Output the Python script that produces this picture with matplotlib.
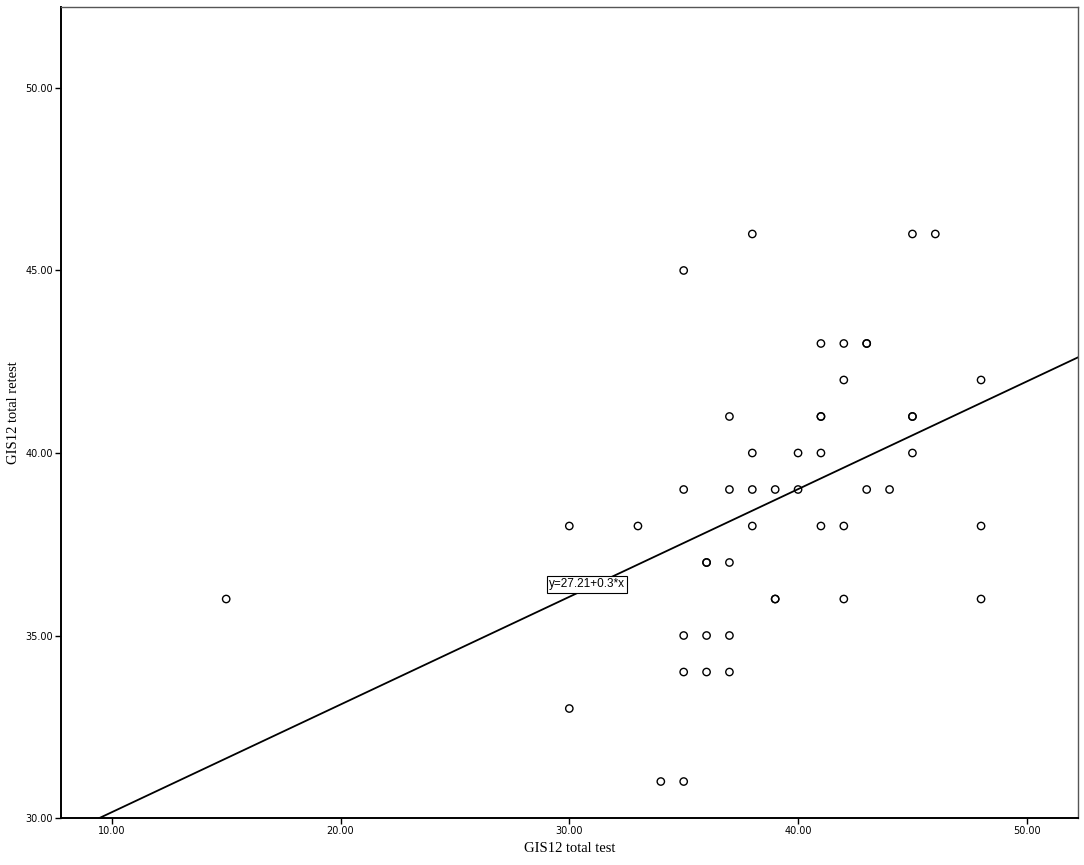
import matplotlib
matplotlib.use('Agg')
import matplotlib.pyplot as plt
import numpy as np

# ==== data ====
test = [15, 30, 30, 33, 34, 35, 35, 35, 35, 35,
        36, 36, 36, 36, 37, 37, 37, 37, 37, 38,
        38, 38, 38, 39, 39, 39, 40, 40, 41, 41,
        41, 41, 41, 42, 42, 42, 42, 43, 43, 43,
        44, 45, 45, 45, 45, 46, 48, 48, 48]
retest = [36, 38, 33, 38, 31, 31, 45, 39, 35, 34,
          37, 37, 35, 34, 41, 39, 37, 35, 34, 46,
          40, 39, 38, 39, 36, 36, 40, 39, 43, 41,
          41, 40, 38, 43, 42, 38, 36, 43, 43, 39,
          39, 46, 41, 41, 40, 46, 42, 38, 36]
intercept = 27.21
slope = 0.295   # shown rounded as 0.3 in the label
fit_label = 'y=27.21+0.3*x'

# ==== plotting ====
fig = plt.figure(figsize=(10.84, 8.65), dpi=100)
ax = fig.add_axes([0.0563, 0.0543, 0.938, 0.9377])

ax.scatter(test, retest, s=28, facecolors='none', edgecolors='black', linewidths=1.0, zorder=3)

xl = np.array([7.78, 52.23])
ax.plot(xl, intercept + slope * xl, color='black', linewidth=1.3, zorder=2)

ax.text(30.77, 36.4, fit_label, fontsize=8.5, family='Liberation Sans', ha='center', va='center',
        bbox=dict(boxstyle='square,pad=0.2', facecolor='white', edgecolor='black', linewidth=0.8), zorder=4)

ax.set_xlim(7.78, 52.23)
ax.set_ylim(30, 52.22)
ax.set_xticks([10, 20, 30, 40, 50])
ax.set_yticks([30, 35, 40, 45, 50])
ax.set_xticklabels(['%.2f' % v for v in [10, 20, 30, 40, 50]])
ax.set_yticklabels(['%.2f' % v for v in [30, 35, 40, 45, 50]])
ax.tick_params(labelsize=7, length=4, width=1, pad=2)

for sp in ['left', 'bottom']:
    ax.spines[sp].set_linewidth(1.4)
for sp in ['top', 'right']:
    ax.spines[sp].set_linewidth(1.0)
    ax.spines[sp].set_color('#555555')

ax.set_xlabel('GIS12 total test', family='Liberation Serif', fontsize=10.5, labelpad=4)
ax.set_ylabel('GIS12 total retest', family='Liberation Serif', fontsize=10.5, labelpad=4)

fig.savefig('out.png', dpi=100)
